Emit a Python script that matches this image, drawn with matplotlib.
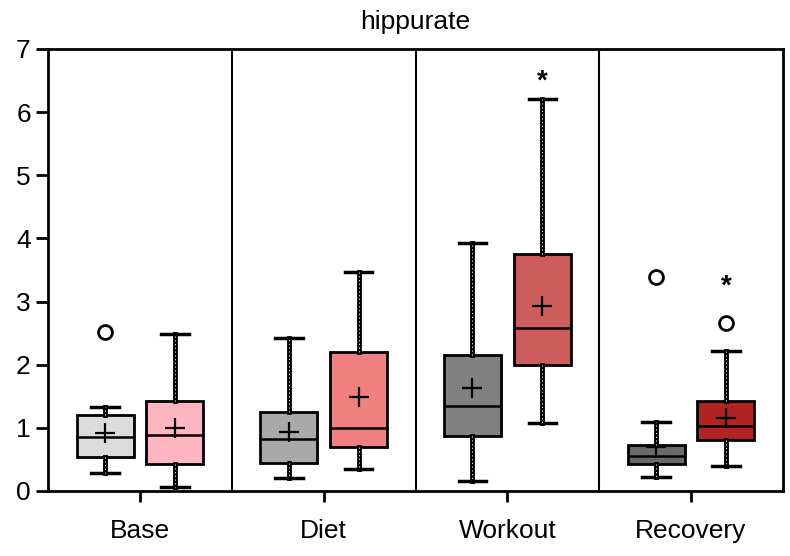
import numpy as np
import matplotlib
matplotlib.use("Agg")
import matplotlib.pyplot as plt

plt.rcParams['font.family'] = ['Liberation Sans', 'DejaVu Sans']

groups = ["Base", "Diet", "Workout", "Recovery"]
# control (gray) and treated (red) series, per group
ctrl_low = [0.28, 0.20, 0.15, 0.22]
ctrl_q1 = [0.54, 0.44, 0.87, 0.42]
ctrl_med = [0.86, 0.82, 1.34, 0.55]
ctrl_q3 = [1.20, 1.25, 2.16, 0.72]
ctrl_high = [1.33, 2.42, 3.92, 1.09]
ctrl_mean = [0.92, 0.94, 1.63, 0.70]
ctrl_fliers = [[2.52], [], [], [3.39]]

trt_low = [0.07, 0.34, 1.07, 0.39]
trt_q1 = [0.42, 0.70, 2.00, 0.80]
trt_med = [0.88, 0.99, 2.58, 1.03]
trt_q3 = [1.42, 2.20, 3.75, 1.42]
trt_high = [2.49, 3.47, 6.20, 2.22]
trt_mean = [1.00, 1.48, 2.93, 1.16]
trt_fliers = [[], [], [], [2.66]]

star_pos = [None, None, 6.48, 3.24]

ctrl_colors = ["#DCDCDC", "#A9A9A9", "#808080", "#696969"]
trt_colors = ["#FFB6C1", "#F08080", "#CD5C5C", "#B22222"]


def make_stats(low, q1, med, q3, high, mean, fliers):
    return [dict(whislo=a, q1=b, med=c, q3=d, whishi=e, mean=f, fliers=g)
            for a, b, c, d, e, f, g in zip(low, q1, med, q3, high, mean, fliers)]


fig = plt.figure(figsize=(7.9, 5.56), dpi=100)
ax = fig.add_axes([0.061, 0.117, 0.930, 0.795])

x = np.arange(len(groups))
off = 0.19
common = dict(widths=0.31, patch_artist=True, showmeans=True, manage_ticks=False,
              capwidths=0.15,
              medianprops=dict(color="black", lw=1.8),
              boxprops=dict(edgecolor="black", lw=2),
              whiskerprops=dict(color="black", lw=3.5),
              capprops=dict(color="black", lw=2.5),
              meanprops=dict(marker="+", markersize=14, markeredgecolor="black",
                             markeredgewidth=1.6),
              flierprops=dict(marker="o", markersize=10, markerfacecolor="white",
                              markeredgecolor="black", markeredgewidth=2))

sets = [(make_stats(ctrl_low, ctrl_q1, ctrl_med, ctrl_q3, ctrl_high, ctrl_mean, ctrl_fliers),
         x - off, ctrl_colors),
        (make_stats(trt_low, trt_q1, trt_med, trt_q3, trt_high, trt_mean, trt_fliers),
         x + off, trt_colors)]

for stats, pos, cols in sets:
    bp = ax.bxp(stats, positions=pos, **common)
    for patch, c in zip(bp["boxes"], cols):
        patch.set_facecolor(c)
    # dotted look of whiskers: small white dashes on top of thick black line
    for w in bp["whiskers"]:
        ax.plot(w.get_xdata(), w.get_ydata(), color="white", lw=0.6,
                ls=(0, (1.5, 3)), zorder=w.get_zorder() + 0.1)

for xi, y in zip(x + off, star_pos):
    if y is not None:
        ax.text(xi, y, "*", ha="center", va="center", fontsize=20,
                fontweight="bold")

for b in x[:-1] + 0.5:
    ax.axvline(b, color="black", lw=1.5)

ax.set_xlim(-0.5, len(groups) - 0.5)
ax.set_ylim(0, 7)
ax.set_xticks(x)
ax.set_xticklabels(groups)
ax.set_yticks(range(0, 8))
ax.tick_params(axis="both", labelsize=19, width=2, direction="out")
ax.tick_params(axis="y", length=9)
ax.tick_params(axis="x", length=8, pad=12)
for s in ax.spines.values():
    s.set_linewidth(2)
ax.set_title("hippurate", fontsize=19, pad=14)

fig.savefig("out.png", dpi=100)
